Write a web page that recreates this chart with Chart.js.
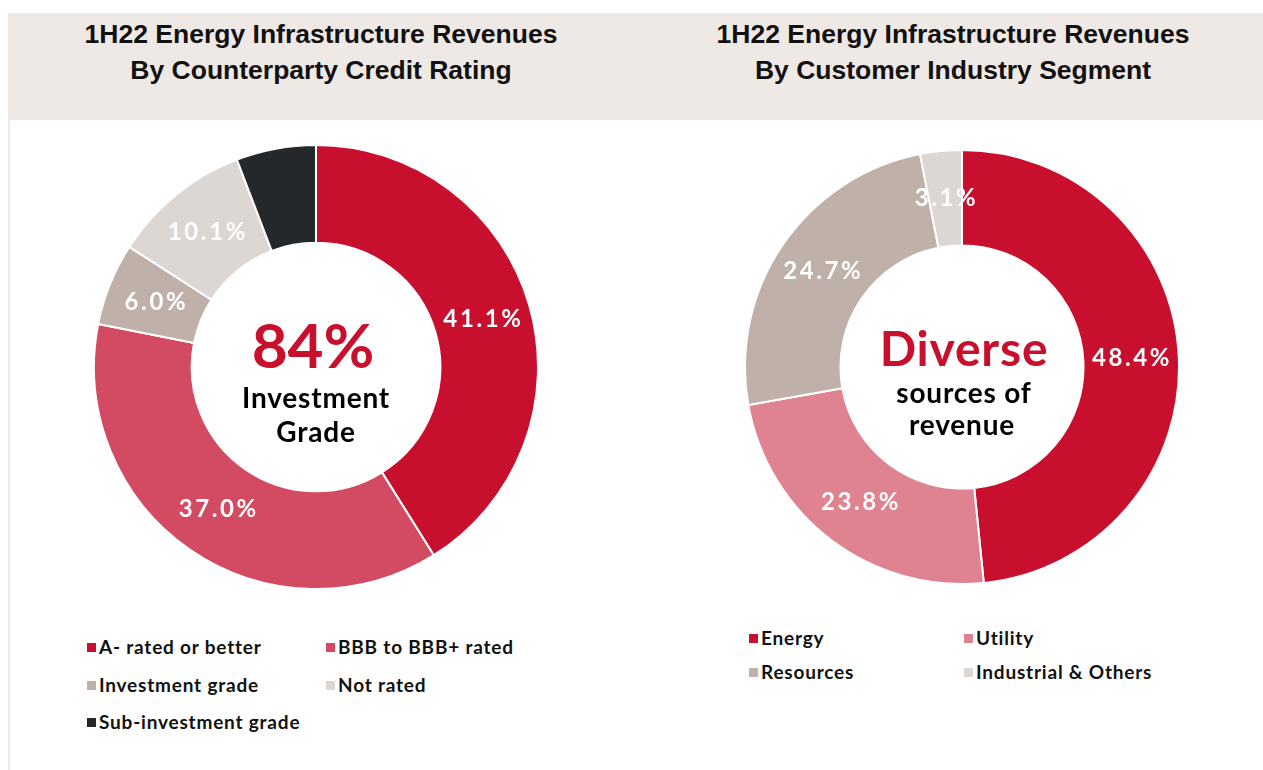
<!DOCTYPE html>
<html>
<head>
<meta charset="utf-8">
<script src="https://cdn.jsdelivr.net/npm/chart.js@4"></script>
<style>
  body { margin: 0; width: 1263px; height: 770px; background: #fff; position: relative; overflow: hidden; font-family: Lato, sans-serif; }
  .band { position: absolute; left: 8px; top: 13px; width: 1255px; height: 107px; background: #efe9e6; }
  .edge { position: absolute; left: 8px; top: 120px; width: 2px; height: 650px; background: #efe9e6; }
  .title { position: absolute; top: 16px; width: 560px; text-align: center; font: bold 26.5px "Liberation Sans", Arial, sans-serif; line-height: 36px; color: #111; }
  canvas { position: absolute; }
  .legend { position: absolute; font: bold 19px Lato, sans-serif; letter-spacing: 0.8px; color: #111; }
  .legend div { position: absolute; white-space: nowrap; line-height: 20px; }
  .legend span { display: inline-block; width: 9px; height: 9px; margin-right: 3px; vertical-align: 2px; }
</style>
</head>
<body>
<div class="band"></div>
<div class="edge"></div>
<div class="title" style="left:41px">1H22 Energy Infrastructure Revenues<br>By Counterparty Credit Rating</div>
<div class="title" style="left:673px">1H22 Energy Infrastructure Revenues<br>By Customer Industry Segment</div>

<canvas id="creditChart" width="446" height="446" style="left:93px;top:144px"></canvas>
<canvas id="segmentChart" width="436" height="436" style="left:744px;top:149px"></canvas>

<div class="legend" id="creditLegend"></div>
<div class="legend" id="segmentLegend"></div>

<script>
// left chart: by credit rating
const creditLabels = ["A- rated or better", "BBB to BBB+ rated", "Investment grade", "Not rated", "Sub-investment grade"];
const creditValues = [41.1, 37.0, 6.0, 10.1, 5.8];
const creditColors = ["#c8102e", "#d34b63", "#bfb1a9", "#ddd7d3", "#25282b"];
const creditHidden = [4]; // no % shown on the dark slice

// right chart: by customer industry
const segmentLabels = ["Energy", "Utility", "Resources", "Industrial & Others"];
const segmentValues = [48.4, 23.8, 24.7, 3.1];
const segmentColors = ["#c8102e", "#e08391", "#bfb1a9", "#ddd7d3"];

// draws the % on each slice
const sliceLabels = {
    id: "sliceLabels",
    afterDatasetsDraw(chart, args, opts) {
        const ctx = chart.ctx;
        const values = chart.data.datasets[0].data;
        ctx.save();
        ctx.font = "bold 24px Lato, sans-serif";
        ctx.letterSpacing = "2.6px";
        ctx.fillStyle = "#fff";
        ctx.textAlign = "center";
        ctx.textBaseline = "middle";
        chart.getDatasetMeta(0).data.forEach(function (arc, i) {
            if ((opts.hidden || []).includes(i)) return;
            const pos = arc.tooltipPosition();
            ctx.fillText(values[i].toFixed(1) + "%", pos.x + 1, pos.y);
        });
        ctx.restore();
    }
};

// text in the hole
const centerText = {
    id: "centerText",
    afterDraw(chart, args, opts) {
        const ctx = chart.ctx;
        const arc = chart.getDatasetMeta(0).data[0];
        ctx.save();
        ctx.textAlign = "center";
        ctx.textBaseline = "alphabetic";
        opts.lines.forEach(function (l) {
            ctx.font = l.font;
            ctx.letterSpacing = l.spacing || "0px";
            ctx.fillStyle = l.color;
            ctx.fillText(l.text, arc.x + (l.dx || 0), arc.y + l.dy);
        });
        ctx.restore();
    }
};

function makeDoughnut(id, labels, values, colors, hidden, lines) {
    return new Chart(document.getElementById(id), {
        type: "doughnut",
        data: {
            labels: labels,
            datasets: [{
                data: values,
                backgroundColor: colors,
                borderColor: "#fff",
                borderWidth: 2,
            }],
        },
        options: {
            responsive: false,
            animation: false,
            cutout: "56%",
            layout: { padding: 0 },
            plugins: {
                legend: { display: false },
                tooltip: { enabled: false },
                sliceLabels: { hidden: hidden },
                centerText: { lines: lines },
            },
        },
        plugins: [sliceLabels, centerText],
    });
}

makeDoughnut("creditChart", creditLabels, creditValues, creditColors, creditHidden, [
    { text: "84%", font: "bold 62px Lato, sans-serif", color: "#c8102e", dy: 1, dx: -3 },
    { text: "Investment", font: "bold 28px Lato, sans-serif", spacing: "0.8px", color: "#000", dy: 41 },
    { text: "Grade", font: "bold 28px Lato, sans-serif", spacing: "0.8px", color: "#000", dy: 75 },
]);

makeDoughnut("segmentChart", segmentLabels, segmentValues, segmentColors, [], [
    { text: "Diverse", font: "bold 48px Lato, sans-serif", spacing: "0.8px", color: "#c8102e", dy: -1, dx: 2 },
    { text: "sources of", font: "bold 28px Lato, sans-serif", spacing: "0.8px", color: "#000", dy: 36, dx: 2 },
    { text: "revenue", font: "bold 28px Lato, sans-serif", spacing: "0.8px", color: "#000", dy: 68 },
]);

// html legends, two columns
function buildLegend(id, labels, colors, xs, ys) {
    const box = document.getElementById(id);
    labels.forEach(function (name, i) {
        const item = document.createElement("div");
        item.style.left = xs[i % 2] + "px";
        item.style.top = ys[Math.floor(i / 2)] + "px";
        const sw = document.createElement("span");
        sw.style.background = colors[i];
        item.appendChild(sw);
        item.appendChild(document.createTextNode(name));
        box.appendChild(item);
    });
}

buildLegend("creditLegend", creditLabels, creditColors, [87, 326], [637, 675, 712]);
buildLegend("segmentLegend", segmentLabels, segmentColors, [749, 964], [628, 662]);
</script>
</body>
</html>
